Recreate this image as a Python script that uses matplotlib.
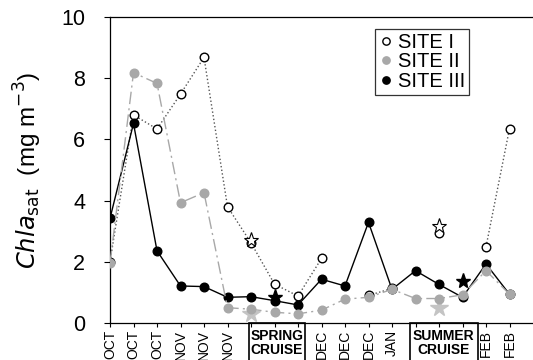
import matplotlib
matplotlib.use("Agg")
import matplotlib.pyplot as plt
import matplotlib.patches as mp
import matplotlib.transforms as mtransforms
import numpy as np

plt.rcParams['font.family'] = ['Liberation Sans', 'DejaVu Sans']

# x positions are sampling index 0..17
months = ['OCT', 'OCT', 'OCT', 'NOV', 'NOV', 'NOV', '', '', '',
          'DEC', 'DEC', 'DEC', 'JAN', '', '', '', 'FEB', 'FEB']
nan = np.nan
site1 = [2.0, 6.8, 6.34, 7.48, 8.68, 3.8, 2.62, 1.27, 0.88, 2.11, nan,
         0.9, 1.13, nan, 2.93, nan, 2.49, 6.35]
site2 = [1.95, 8.18, 7.83, 3.93, 4.26, 0.5, 0.45, 0.35, 0.3, 0.42, 0.78,
         0.84, 1.1, 0.8, 0.8, 0.92, 1.71, 0.94]
site3 = [3.42, 6.52, 2.36, 1.21, 1.19, 0.84, 0.86, 0.73, 0.59, 1.43, 1.21,
         3.29, 1.1, 1.71, 1.26, 0.84, 1.93, 0.94]

# cruise (star) values
star1_x, star1_y = [6, 14], [2.7, 3.17]
star2_x, star2_y = [6, 14], [0.3, 0.5]
star3_x, star3_y = [7, 15], [0.84, 1.36]

cruises = [('SPRING\nCRUISE', 7.1, 2.4), ('SUMMER\nCRUISE', 14.2, 2.9)]

grey = '#a8a8a8'

fig = plt.figure(figsize=(5.33, 3.6), dpi=100)
ax = fig.add_axes([110/533, 1-323/360, 423/533, 306/360])

x = np.arange(len(months))

ax.plot(x, site1, ':', color='#555555', lw=1.0, zorder=1)
ax.plot(x, site1, 'o', mfc='white', mec='black', mew=1.0, ms=6.2, ls='none', zorder=2,
        label='SITE I')
ax.plot(star1_x, star1_y, '*', mfc='white', mec='black', mew=0.8, ms=11, ls='none', zorder=3)

ax.plot(x, site3, '-', color='black', lw=1.0, zorder=4)
ax.plot(x, site3, 'o', color='black', ms=6.2, ls='none', zorder=5, label='SITE III')
ax.plot(star3_x, star3_y, '*', color='black', ms=11, ls='none', zorder=5)

ax.plot(x, site2, color=grey, lw=1.0, ls=(0, (9, 3, 1.5, 3)), zorder=6)
ax.plot(x, site2, 'o', color=grey, ms=6.2, ls='none', zorder=7, label='SITE II')
ax.plot(star2_x, star2_y, '*', color='#c4c4c4', ms=13, ls='none', zorder=6.5)

ax.set_xlim(0, 18)
ax.set_ylim(0, 10)
ax.set_yticks([0, 2, 4, 6, 8, 10])
ax.tick_params(axis='y', labelsize=15.5, direction='out', length=4, width=0.8, pad=14)
ax.set_xticks(x)
ax.set_xticklabels(months, rotation=90, fontsize=10)
ax.tick_params(axis='x', direction='out', length=3, width=0.8, pad=2)

for s in ['left', 'bottom', 'top']:
    ax.spines[s].set_linewidth(0.9)
ax.spines['right'].set_visible(False)

ax.set_ylabel(r'$\it{Chla}_{\rm sat}$  (mg m$^{-3}$)', fontsize=17.5, va='center')
ax.yaxis.set_label_coords((28 - 110) / 423, 0.5)

# cruise boxes under the axis
trans = mtransforms.blended_transform_factory(ax.transData, ax.transAxes)
for text, xc, w in cruises:
    ax.add_patch(mp.Rectangle((xc - w/2, -0.16), w, 0.16, transform=trans, fill=False,
                              ec='black', lw=1.2, clip_on=False))
    ax.text(xc, -0.066, text, transform=trans, ha='center', va='center', fontsize=10,
            fontweight='bold', linespacing=1.0)

handles, labels = ax.get_legend_handles_labels()
order = [0, 2, 1]
leg = ax.legend([handles[i] for i in order], [labels[i] for i in order],
                loc='upper left', bbox_to_anchor=(0.626, 0.961), borderaxespad=0,
                fontsize=14.5, frameon=True, fancybox=False, edgecolor='black',
                labelspacing=0.02, handletextpad=0.25, handlelength=0.7,
                borderpad=0.2, markerscale=0.85)
leg.get_frame().set_linewidth(0.9)

fig.savefig('out.png', dpi=100)
